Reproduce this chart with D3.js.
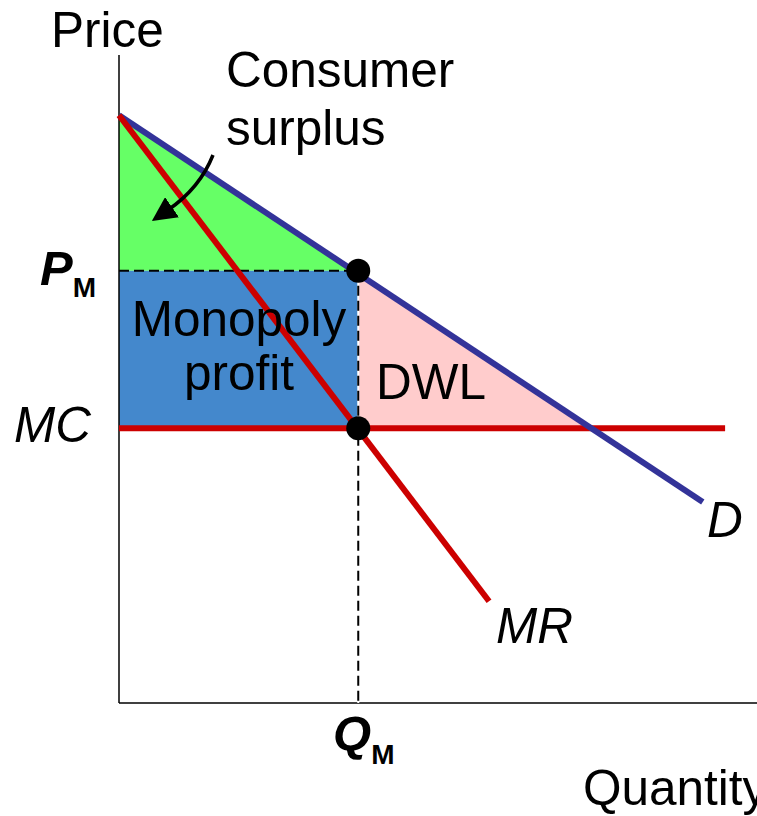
<!DOCTYPE html>
<html>
<head>
<meta charset="utf-8">
<script src="https://cdn.jsdelivr.net/npm/d3@7"></script>
<style>
  body { margin: 0; background: #fff; }
  text { font-family: "Liberation Sans", Arial, sans-serif; fill: #000; }
</style>
</head>
<body>
<div id="chart"></div>
<script>
// values (quantity, price)
const demand = [[0, 9.07], [7.32, 3.1]];
const marginalRevenue = [[0, 9.07], [4.64, 1.57]];
const marginalCost = [[0, 4.24], [7.6, 4.24]];
const qM = 3.0;
const pM = 6.67;
const mc = 4.24;
const axisLabels = ["Price", "Quantity"];
const curveLabels = ["D", "MR", "MC"];

const width = 757, height = 816;

const x = d3.scaleLinear().domain([0, 8]).range([119, 757]);
const y = d3.scaleLinear().domain([0, 10]).range([703, 55]);

const svg = d3.select("#chart")
  .append("svg")
  .attr("width", width)
  .attr("height", height);

const line = d3.line().x(d => x(d[0])).y(d => y(d[1]));

// where demand meets MC
const dSlope = (demand[1][1] - demand[0][1]) / (demand[1][0] - demand[0][0]);
const qComp = (mc - demand[0][1]) / dSlope;

// Filled areas
svg.append("path")
  .attr("d", line([[0, demand[0][1]], [qM, pM], [0, pM]]) + "Z")
  .attr("fill", "#66ff66");

svg.append("rect")
  .attr("x", x(0))
  .attr("y", y(pM))
  .attr("width", x(qM) - x(0))
  .attr("height", y(mc) - y(pM))
  .attr("fill", "#4488cc");

svg.append("path")
  .attr("d", line([[qM, pM], [qComp, mc], [qM, mc]]) + "Z")
  .attr("fill", "#ffcccc");

// Axes
svg.append("line")
  .attr("x1", x(0)).attr("x2", x(0))
  .attr("y1", y(10)).attr("y2", y(0))
  .attr("stroke", "#000").attr("stroke-width", 1.5);
svg.append("line")
  .attr("x1", x(0)).attr("x2", x(8))
  .attr("y1", y(0)).attr("y2", y(0))
  .attr("stroke", "#000").attr("stroke-width", 1.5);

// Dashed guides
svg.append("line")
  .attr("x1", x(qM)).attr("x2", x(qM))
  .attr("y1", y(pM)).attr("y2", y(0))
  .attr("stroke", "#fff").attr("stroke-width", 2);
svg.append("line")
  .attr("x1", x(qM)).attr("x2", x(qM))
  .attr("y1", y(pM)).attr("y2", y(0))
  .attr("stroke", "#000").attr("stroke-width", 2)
  .attr("stroke-dasharray", "10,5");
svg.append("line")
  .attr("x1", x(0)).attr("x2", x(qM))
  .attr("y1", y(pM)).attr("y2", y(pM))
  .attr("stroke", "#000").attr("stroke-width", 2)
  .attr("stroke-dasharray", "10,5");

// Curves
svg.append("path").attr("d", line(marginalCost))
  .attr("stroke", "#cc0000").attr("stroke-width", 6).attr("fill", "none");
svg.append("path").attr("d", line(demand))
  .attr("stroke", "#333399").attr("stroke-width", 6).attr("fill", "none");
svg.append("path").attr("d", line(marginalRevenue))
  .attr("stroke", "#cc0000").attr("stroke-width", 6).attr("fill", "none");

// Points
svg.selectAll(".dot")
  .data([[qM, pM], [qM, mc]])
  .enter()
  .append("circle")
  .attr("class", "dot")
  .attr("cx", d => x(d[0]))
  .attr("cy", d => y(d[1]))
  .attr("r", 12)
  .attr("fill", "#000");

// Arrow for consumer surplus
svg.append("defs").append("marker")
  .attr("id", "head")
  .attr("viewBox", "0 0 10 10")
  .attr("refX", 2).attr("refY", 5)
  .attr("markerWidth", 7).attr("markerHeight", 7)
  .attr("markerUnits", "strokeWidth")
  .attr("orient", "auto")
  .append("path")
  .attr("d", "M0,0 L10,5 L0,10 Z")
  .attr("fill", "#000");

svg.append("path")
  .attr("d", "M213,155 Q200,188 168,210")
  .attr("stroke", "#000").attr("stroke-width", 3.5).attr("fill", "none")
  .attr("marker-end", "url(#head)");

// Texts
const fs = 49.5;
svg.append("text").attr("x", 51).attr("y", 47).attr("font-size", fs).text(axisLabels[0]);
svg.append("text").attr("x", 583).attr("y", 805).attr("font-size", fs).text(axisLabels[1]);

svg.append("text").attr("x", 226).attr("y", 87).attr("font-size", fs).text("Consumer");
svg.append("text").attr("x", 226).attr("y", 145).attr("font-size", fs).text("surplus");

svg.append("text").attr("x", 239).attr("y", 336).attr("font-size", fs)
  .attr("text-anchor", "middle").text("Monopoly");
svg.append("text").attr("x", 239).attr("y", 390).attr("font-size", fs)
  .attr("text-anchor", "middle").text("profit");
svg.append("text").attr("x", 376).attr("y", 399).attr("font-size", fs).text("DWL");

svg.append("text").attr("x", 14).attr("y", 442).attr("font-size", fs)
  .attr("font-style", "italic").text(curveLabels[2]);
svg.append("text").attr("x", 707).attr("y", 537).attr("font-size", fs)
  .attr("font-style", "italic").text(curveLabels[0]);
svg.append("text").attr("x", 496).attr("y", 643).attr("font-size", fs)
  .attr("font-style", "italic").text(curveLabels[1]);

const pm = svg.append("text").attr("x", 40).attr("y", 285)
  .attr("font-size", 49).attr("font-weight", "bold").attr("font-style", "italic");
pm.append("tspan").text("P");
pm.append("tspan").attr("dy", 12).attr("font-size", 28).attr("font-style", "normal").text("M");

const qm = svg.append("text").attr("x", 333).attr("y", 750)
  .attr("font-size", 49).attr("font-weight", "bold").attr("font-style", "italic");
qm.append("tspan").text("Q");
qm.append("tspan").attr("dy", 14).attr("font-size", 28).attr("font-style", "normal").text("M");
</script>
</body>
</html>
